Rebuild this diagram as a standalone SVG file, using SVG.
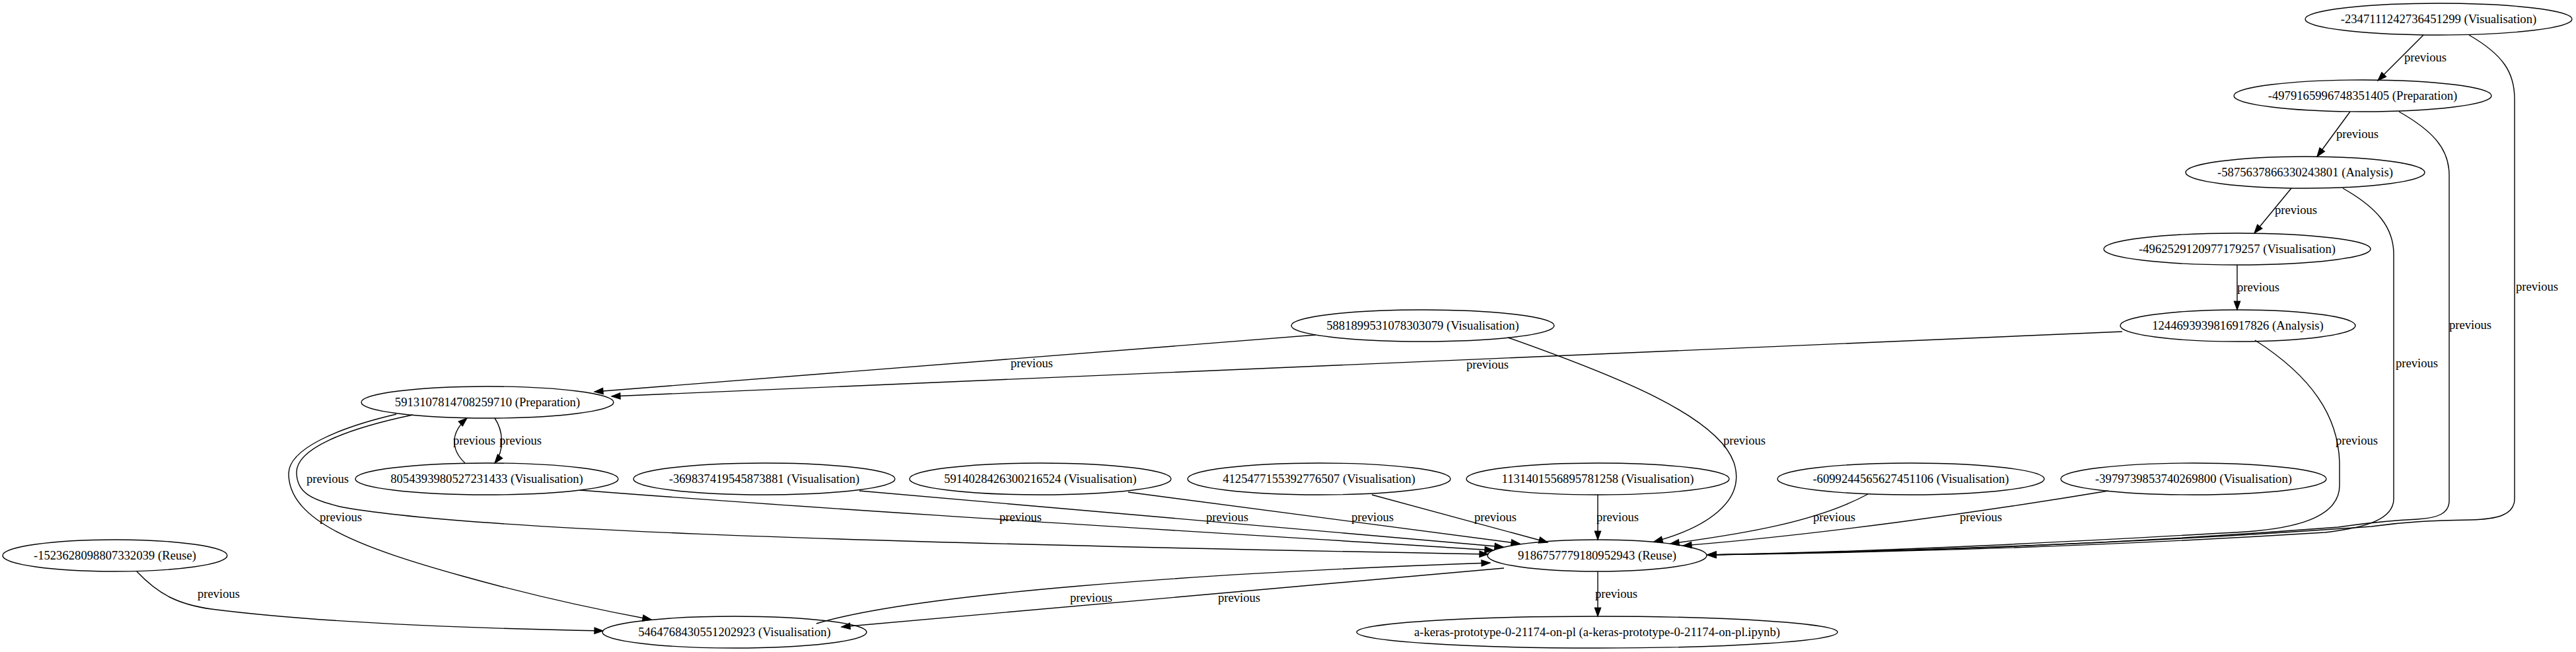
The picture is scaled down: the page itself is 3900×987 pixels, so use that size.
<svg xmlns="http://www.w3.org/2000/svg" width="3900" height="987" viewBox="0 0 3900 987">
<style>
.n ellipse{fill:none;stroke:#000;stroke-width:1.4}
.n text,.lbl{font-family:"Liberation Serif","Times New Roman",serif;font-size:18.67px;fill:#000;text-anchor:middle}
.e path{fill:none;stroke:#000;stroke-width:1.4;marker-end:url(#ah)}
</style>
<defs>
<marker id="ah" markerWidth="14" markerHeight="10" refX="13" refY="4.67" orient="auto" markerUnits="userSpaceOnUse" overflow="visible">
<path d="M0,0 L13,4.67 L0,9.33 z" fill="#000" stroke="#000" stroke-width="1.2"/>
</marker>
</defs>
<rect width="3900" height="987" fill="#fff"/>
<g id="edges" class="e">
<path d="M3669,53 L3600,122"/>
<path d="M3738,53 C3790,83 3807,110 3807,150 L3807,755 C3807,780 3780,786 3740,787 C3680,788 3640,790 3590,797 C3250,822 2900,834 2585,840"/>
<path d="M3558,169 L3508,237"/>
<path d="M3632,169 C3683,198 3708,225 3708,265 L3708,758 C3708,778 3690,784 3660,786 C3620,788 3580,792 3540,798 C3200,824 2900,835 2585,840"/>
<path d="M3469,285 L3413,353"/>
<path d="M3547,285 C3600,315 3624,345 3624,385 L3624,755 C3624,790 3570,800 3520,806 C3200,826 2900,836 2585,840"/>
<path d="M3387,401 L3387,469"/>
<path d="M3213,502 L926,600"/>
<path d="M3414,515 C3500,570 3540,630 3542,700 L3542,735 C3542,785 3470,800 3400,805 C3100,822 2850,835 2585,840"/>
<path d="M1992,507 L900,593"/>
<path d="M2283,511 C2450,570 2600,630 2625,700 C2645,760 2580,800 2504,820"/>
<path d="M749,633 C762,652 764,682 749,701"/>
<path d="M704,701 C682,680 682,655 707,633"/>
<path d="M625,628 C520,650 449,680 449,715 C449,745 470,757 520,768 C700,800 1200,820 2253,839"/>
<path d="M600,627 C510,648 437,680 437,717 C437,790 550,830 700,872 C800,900 900,922 986,938"/>
<path d="M878,742 C1300,775 1900,810 2261,833"/>
<path d="M1301,743 L2276,828"/>
<path d="M1708,745 L2301,823"/>
<path d="M2077,749 L2343,821"/>
<path d="M2419,749 L2419,817"/>
<path d="M2828,748 C2750,790 2640,808 2529,823"/>
<path d="M3192,743 C3000,775 2750,810 2548,826"/>
<path d="M1236,944 C1380,900 1800,868 2256,852"/>
<path d="M2277,860 L1274,949"/>
<path d="M207,865 C240,900 270,915 320,922 C500,945 750,952 913,955"/>
<path d="M2419,865 L2419,933"/>
</g>
<g id="edge-labels">
<text class="lbl" x="3672" y="93">previous</text>
<text class="lbl" x="3841" y="440">previous</text>
<text class="lbl" x="3569" y="209">previous</text>
<text class="lbl" x="3740" y="498">previous</text>
<text class="lbl" x="3476" y="324">previous</text>
<text class="lbl" x="3659" y="556">previous</text>
<text class="lbl" x="3419" y="441">previous</text>
<text class="lbl" x="2252" y="558">previous</text>
<text class="lbl" x="3568" y="673">previous</text>
<text class="lbl" x="1562" y="556">previous</text>
<text class="lbl" x="2641" y="673">previous</text>
<text class="lbl" x="788" y="673">previous</text>
<text class="lbl" x="718" y="673">previous</text>
<text class="lbl" x="496" y="731">previous</text>
<text class="lbl" x="516" y="789">previous</text>
<text class="lbl" x="1545" y="789">previous</text>
<text class="lbl" x="1858" y="789">previous</text>
<text class="lbl" x="2078" y="789">previous</text>
<text class="lbl" x="2264" y="789">previous</text>
<text class="lbl" x="2449" y="789">previous</text>
<text class="lbl" x="2777" y="789">previous</text>
<text class="lbl" x="2999" y="789">previous</text>
<text class="lbl" x="1652" y="911">previous</text>
<text class="lbl" x="1876" y="911">previous</text>
<text class="lbl" x="331" y="905">previous</text>
<text class="lbl" x="2447" y="905">previous</text>
</g>
<g id="n1" class="n"><ellipse cx="3692" cy="29" rx="202" ry="24"/><text x="3692" y="35">-2347111242736451299 (Visualisation)</text></g>
<g id="n2" class="n"><ellipse cx="3577" cy="145" rx="195" ry="24"/><text x="3577" y="151">-4979165996748351405 (Preparation)</text></g>
<g id="n3" class="n"><ellipse cx="3490" cy="261" rx="181" ry="24"/><text x="3490" y="267">-5875637866330243801 (Analysis)</text></g>
<g id="n4" class="n"><ellipse cx="3387" cy="377" rx="202" ry="24"/><text x="3387" y="383">-4962529120977179257 (Visualisation)</text></g>
<g id="n5" class="n"><ellipse cx="3388" cy="493" rx="178" ry="24"/><text x="3388" y="499">1244693939816917826 (Analysis)</text></g>
<g id="n6" class="n"><ellipse cx="2154" cy="493" rx="199" ry="24"/><text x="2154" y="499">5881899531078303079 (Visualisation)</text></g>
<g id="n7" class="n"><ellipse cx="738" cy="609" rx="191" ry="24"/><text x="738" y="615">5913107814708259710 (Preparation)</text></g>
<g id="n8" class="n"><ellipse cx="737" cy="725" rx="199" ry="24"/><text x="737" y="731">8054393980527231433 (Visualisation)</text></g>
<g id="n9" class="n"><ellipse cx="1157" cy="725" rx="198" ry="24"/><text x="1157" y="731">-369837419545873881 (Visualisation)</text></g>
<g id="n10" class="n"><ellipse cx="1575" cy="725" rx="198" ry="24"/><text x="1575" y="731">5914028426300216524 (Visualisation)</text></g>
<g id="n11" class="n"><ellipse cx="1997" cy="725" rx="199" ry="24"/><text x="1997" y="731">4125477155392776507 (Visualisation)</text></g>
<g id="n12" class="n"><ellipse cx="2419" cy="725" rx="199" ry="24"/><text x="2419" y="731">1131401556895781258 (Visualisation)</text></g>
<g id="n13" class="n"><ellipse cx="2893" cy="725" rx="202" ry="24"/><text x="2893" y="731">-6099244565627451106 (Visualisation)</text></g>
<g id="n14" class="n"><ellipse cx="3321" cy="725" rx="201" ry="24"/><text x="3321" y="731">-3979739853740269800 (Visualisation)</text></g>
<g id="n15" class="n"><ellipse cx="2418" cy="841" rx="166" ry="24"/><text x="2418" y="847">9186757779180952943 (Reuse)</text></g>
<g id="n16" class="n"><ellipse cx="174" cy="841" rx="170" ry="24"/><text x="174" y="847">-1523628098807332039 (Reuse)</text></g>
<g id="n17" class="n"><ellipse cx="1112" cy="957" rx="200" ry="24"/><text x="1112" y="963">5464768430551202923 (Visualisation)</text></g>
<g id="n18" class="n"><ellipse cx="2418" cy="957" rx="364" ry="24"/><text x="2418" y="963">a-keras-prototype-0-21174-on-pl (a-keras-prototype-0-21174-on-pl.ipynb)</text></g>
</svg>
